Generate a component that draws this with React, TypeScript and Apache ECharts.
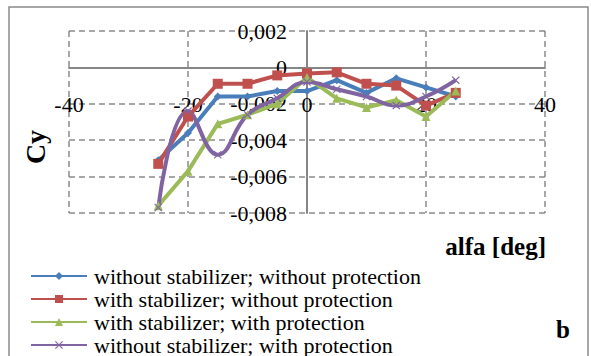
import React, { useEffect, useRef } from "react";
import * as echarts from "echarts";

const alfa = [-25, -20, -15, -10, -5, 0, 5, 10, 15, 20, 25];
const seriesNames = [
  "without stabilizer; without protection",
  "with stabilizer; without protection",
  "with stabilizer; with protection",
  "without stabilizer; with protection",
];
const blueVals = [-0.0051, -0.0036, -0.0016, -0.0016, -0.0013, -0.0013, -0.0007, -0.0014, -0.0006, -0.0011, -0.0016];
const redVals = [-0.0053, -0.0027, -0.0009, -0.0009, -0.00044, -0.00033, -0.00027, -0.0009, -0.001, -0.0021, -0.0014];
const greenVals = [-0.0076, -0.0057, -0.0031, -0.0026, -0.002, -0.00055, -0.0017, -0.0022, -0.0018, -0.0027, -0.0013];
const purpleVals = [-0.0077, -0.0024, -0.0048, -0.0026, -0.0017, -0.0008, -0.0012, -0.0016, -0.0021, -0.0016, -0.0007];
const colors = ["#4A7EBB", "#C0504D", "#9BBB59", "#8064A2"];

const FONT = "Liberation Serif";
const X_SYMBOL = "path://M0,1L1,0L5,4L9,0L10,1L6,5L10,9L9,10L5,6L1,10L0,9L4,5Z";

export default function App() {
  const ref = useRef<HTMLDivElement>(null);
  useEffect(() => {
    const chart = echarts.init(ref.current!, null, { renderer: "svg" });
    const mk = (vals: number[]) => alfa.map((a, i) => [a, vals[i]]);
    const allVals = [blueVals, redVals, greenVals, purpleVals];
    const symbols = ["diamond", "rect", "triangle", X_SYMBOL];
    const sizes = [8, 10, 9, 8];
    chart.setOption({
      animation: false,
      backgroundColor: "#fff",
      grid: { left: 69, right: 46, top: 31, bottom: 143 },
      graphic: [
        {
          type: "rect",
          shape: { x: 9, y: 7, width: 579, height: 360 },
          style: { fill: "none", stroke: "#8a8a8a", lineWidth: 1.5 },
          silent: true,
          z: -1,
        },
        {
          type: "text",
          x: 35,
          y: 147,
          rotation: Math.PI / 2,
          style: {
            text: "Cy",
            fontFamily: FONT,
            fontWeight: "bold",
            fontSize: 28,
            fill: "#000",
            align: "center",
            verticalAlign: "middle",
          },
        },
        {
          type: "text",
          x: 546,
          y: 246,
          style: {
            text: "alfa [deg]",
            fontFamily: FONT,
            fontWeight: "bold",
            fontSize: 25,
            fill: "#000",
            align: "right",
            verticalAlign: "middle",
          },
        },
        {
          type: "text",
          x: 563,
          y: 329,
          style: {
            text: "b",
            fontFamily: FONT,
            fontWeight: "bold",
            fontSize: 25,
            fill: "#000",
            align: "center",
            verticalAlign: "middle",
          },
        },
      ],
      legend: {
        orient: "vertical",
        left: 30,
        top: 265,
        height: 120,
        padding: 0,
        itemWidth: 56,
        itemHeight: 10,
        itemGap: 1,
        data: seriesNames,
        textStyle: { fontFamily: FONT, fontSize: 22, color: "#000", padding: [0, 0, 0, 2] },
      },
      xAxis: {
        type: "value",
        min: -40,
        max: 40,
        interval: 20,
        axisLine: { onZero: true, lineStyle: { color: "#868686", width: 2 } },
        axisTick: { show: false },
        axisLabel: {
          margin: -109,
          verticalAlign: "middle",
          fontFamily: FONT,
          fontSize: 22,
          color: "#000",
          showMinLabel: true,
          showMaxLabel: true,
        },
        splitLine: { show: true, lineStyle: { color: "#8a8a8a", type: [6, 4], width: 1.5 } },
      },
      yAxis: {
        type: "value",
        min: -0.008,
        max: 0.002,
        interval: 0.002,
        axisLine: { show: true, onZero: true, lineStyle: { color: "#868686", width: 2 } },
        axisTick: { show: false },
        axisLabel: {
          margin: -218,
          fontFamily: FONT,
          fontSize: 22,
          color: "#000",
          padding: [4, 0, 0, 0],
          formatter: (v: number) =>
            Math.abs(v) < 1e-9 ? "0" : v.toFixed(3).replace(".", ","),
        },
        splitLine: { show: true, lineStyle: { color: "#8a8a8a", type: [6, 4], width: 1.5 } },
      },
      series: allVals.map((vals, i) => ({
        name: seriesNames[i],
        type: "line",
        data: mk(vals),
        smooth: i === 3 ? 0.45 : false,
        symbol: symbols[i],
        symbolSize: sizes[i],
        showSymbol: true,
        itemStyle: { color: colors[i] },
        lineStyle: { color: colors[i], width: 4 },
        emphasis: { disabled: true },
      })),
    });
    return () => chart.dispose();
  }, []);
  return (
    <div
      ref={ref}
      style={{ position: "absolute", left: 0, top: 0, width: 591, height: 356 }}
    />
  );
}
